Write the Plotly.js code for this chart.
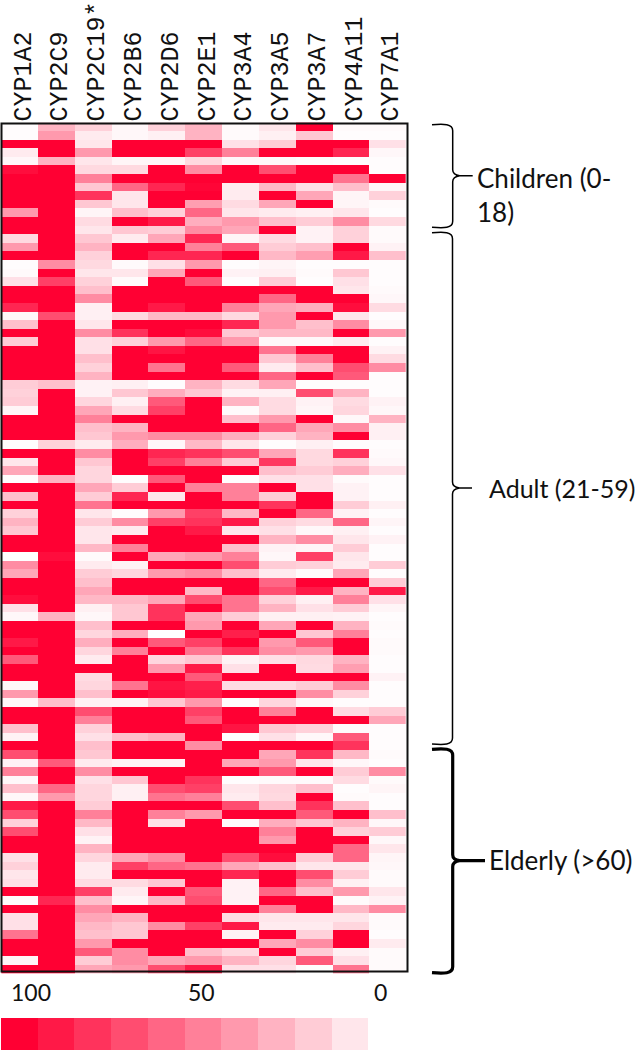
<!DOCTYPE html>
<html>
<head>
<meta charset="utf-8">
<script src="https://cdn.plot.ly/plotly-3.0.1.min.js"></script>
<style>html,body{margin:0;padding:0;background:#fff;overflow:hidden}#chart{width:638px;height:1050px}</style>
</head>
<body>
<div id="chart"></div>
<script>
const enzymes = ["CYP1A2","CYP2C9","CYP2C19*","CYP2B6","CYP2D6","CYP2E1","CYP3A4","CYP3A5","CYP3A7","CYP4A11","CYP7A1"];

const childrenRows = [
[1,30,18,3,18,30,2,10,100,2,2],
[1,40,8,3,6,30,2,6,22,1,1],
[100,100,10,100,100,100,12,20,100,100,12],
[8,100,40,100,100,75,50,100,100,85,3],
[3,30,10,4,4,15,3,3,2,1,1],
[95,100,15,15,100,45,100,70,100,100,1],
[100,100,50,100,100,100,100,100,100,55,100],
[100,100,22,60,85,98,8,28,12,25,4],
[100,100,80,10,100,100,8,100,35,4,18],
[100,100,22,10,100,38,14,35,100,4,2],
[40,100,4,25,18,60,10,8,6,10,1],
[100,100,14,100,90,32,40,25,20,45,15]
];
const adultRows = [
[100,100,10,22,20,45,35,100,5,18,2],
[15,100,22,8,35,85,4,14,5,18,2],
[40,100,30,100,100,50,65,20,25,100,5],
[100,100,18,100,85,85,100,28,38,90,25],
[1,45,15,2,12,40,1,4,1,1,1],
[2,100,10,10,35,100,5,6,2,22,1],
[12,75,18,2,100,65,1,20,1,12,1],
[100,100,25,100,100,100,100,100,100,10,2],
[100,100,45,100,100,100,100,60,100,100,3],
[85,100,6,100,90,100,50,35,32,95,14],
[3,70,6,15,28,28,15,40,100,10,1],
[25,100,10,100,100,100,85,40,25,45,3],
[100,100,45,80,100,95,22,28,28,100,40],
[20,100,12,18,40,60,40,3,3,8,1],
[100,100,12,100,92,100,100,55,100,100,5],
[100,100,25,100,100,100,100,22,50,100,14],
[100,100,18,100,55,100,65,8,25,70,45],
[100,100,30,100,100,100,100,60,100,65,1],
[20,25,5,6,1,30,14,35,1,1,1],
[18,100,5,22,32,22,5,6,70,30,1],
[20,100,16,6,65,100,30,14,5,14,5],
[4,100,35,14,75,100,2,14,4,16,3],
[100,100,50,100,100,100,25,40,100,3,30],
[100,100,25,30,100,100,100,60,35,45,6],
[100,100,22,40,45,45,32,18,30,100,6],
[1,18,8,32,3,28,10,1,6,1,1],
[100,100,45,100,85,80,70,35,15,80,2],
[10,100,22,100,75,50,20,78,15,18,3],
[35,100,16,100,100,100,100,25,20,32,12],
[1,30,16,1,65,100,1,12,12,2,1],
[100,100,35,20,100,50,50,100,12,5,1],
[25,100,20,85,10,100,50,20,100,5,1],
[100,100,55,100,100,100,100,80,100,20,6],
[18,100,10,1,40,75,28,100,60,5,1],
[30,100,20,45,75,80,90,18,14,60,4],
[22,100,10,8,100,90,10,12,3,6,1],
[100,100,10,100,100,100,100,30,45,10,5],
[100,100,28,50,100,100,25,5,4,20,1],
[0,95,2,100,35,40,50,3,75,10,1],
[45,100,8,5,100,100,70,20,18,8,20],
[35,100,20,16,40,45,25,8,2,35,1],
[100,100,25,100,100,100,100,60,100,100,20],
[100,100,35,100,100,28,100,70,90,30,90],
[95,100,28,28,35,70,55,18,6,50,12],
[12,100,6,22,80,100,55,30,12,20,4],
[3,30,3,22,80,35,20,6,6,5,1],
[100,100,25,100,100,40,100,35,100,30,2],
[100,100,16,32,0,100,88,100,22,50,1],
[90,100,32,100,65,75,100,40,65,100,2],
[100,100,16,50,100,55,80,45,40,100,2],
[65,100,8,100,16,22,5,12,15,30,1],
[100,100,100,100,40,90,12,100,14,38,1],
[100,100,14,100,100,65,100,100,100,100,5],
[3,100,16,55,92,88,14,14,20,45,1],
[40,100,25,100,95,90,100,100,45,18,1],
[3,25,5,5,22,40,1,16,3,1,1],
[100,100,70,100,100,75,100,50,100,14,20],
[100,100,50,100,100,65,100,100,100,100,35],
[25,100,18,100,100,100,92,22,18,2,1],
[5,100,12,25,30,100,1,12,3,65,1],
[100,100,25,100,100,45,100,100,100,80,1]
];
const elderlyRows = [
[70,100,22,100,100,100,100,35,80,28,2],
[5,65,8,5,5,100,35,40,10,3,1],
[50,100,45,100,100,100,100,65,100,20,45],
[3,100,12,22,100,80,1,2,2,14,2],
[25,60,16,6,70,75,10,16,25,1,4],
[3,40,16,6,55,50,8,15,100,2,1],
[90,100,20,100,100,100,70,25,80,25,1],
[70,100,50,100,50,40,100,100,65,100,25],
[18,100,28,100,12,100,2,32,22,30,3],
[70,100,12,100,100,100,100,50,100,18,20],
[100,100,5,100,100,100,100,40,100,100,3],
[100,100,30,100,100,100,100,100,100,60,10],
[12,100,16,35,45,100,70,95,20,60,4],
[18,100,8,75,60,55,35,25,10,10,3],
[10,100,8,100,100,100,85,100,70,20,2],
[12,100,14,14,22,100,5,100,45,6,2],
[100,100,75,8,100,65,5,60,25,40,10],
[2,85,25,4,28,70,5,100,100,2,5],
[100,100,45,100,100,100,100,50,100,28,45],
[12,100,35,30,100,100,14,10,10,10,2],
[12,100,28,22,45,75,90,8,8,16,2],
[55,100,25,22,100,100,5,100,18,100,1],
[100,100,40,100,100,100,100,35,45,100,8],
[100,100,65,45,100,25,15,100,20,6,2],
[4,100,20,45,35,40,30,16,65,12,2],
[100,100,35,40,70,90,12,12,1,55,2]
];
const legendLevels = [100,90,80,70,60,50,40,30,20,10,0];
const legendLabels = ["100","50","0"];

const W = 638, H = 1050;
const px = x => x / W;
const py = y => 1 - y / H;
const scale = [[0,"#FFFFFF"],[1,"#FF0033"]];
const allRows = childrenRows.concat(adultRows, elderlyRows);

function brace(xL, xV, xTip, yTop, yTip, yBot) {
  const r = 6;
  return "M" + px(xL) + "," + py(yTop) +
    " C" + px(xL + 12) + "," + py(yTop - 1) + " " + px(xV) + "," + py(yTop - 1) + " " + px(xV) + "," + py(yTop + r) +
    " L" + px(xV) + "," + py(yTip - r) +
    " Q" + px(xV) + "," + py(yTip - 1) + " " + px(xV + 7) + "," + py(yTip) +
    " L" + px(xTip) + "," + py(yTip) +
    " L" + px(xV + 7) + "," + py(yTip) +
    " Q" + px(xV) + "," + py(yTip + 1) + " " + px(xV) + "," + py(yTip + r) +
    " L" + px(xV) + "," + py(yBot - r) +
    " C" + px(xV) + "," + py(yBot + 1) + " " + px(xL + 12) + "," + py(yBot + 1) + " " + px(xL) + "," + py(yBot);
}
const braceShape = (d, w) => ({type:"path", xref:"paper", yref:"paper", path:d, line:{color:"#000", width:w}});

const sideFont = {family:"Lato, 'Open Sans', sans-serif", size:26, color:"#111"};
const adultFont = {family:"Lato, 'Open Sans', sans-serif", size:25, color:"#111"};
const numberFont = {family:"Lato, 'Open Sans', sans-serif", size:23, color:"#111"};
const note = (x, y, text, anchor, font) => ({xref:"paper", yref:"paper", x:px(x), y:py(y), text:text, showarrow:false,
  xanchor:anchor || "left", yanchor:"middle", align:"left", font:font || sideFont});

const traces = [
  {type:"heatmap", x:enzymes, y:allRows.map((_, i) => i), z:allRows, xaxis:"x", yaxis:"y",
   colorscale:scale, zmin:0, zmax:100, showscale:false, xgap:0, ygap:0, hoverongaps:false},
  {type:"heatmap", z:[legendLevels], xaxis:"x2", yaxis:"y2",
   colorscale:scale, zmin:0, zmax:100, showscale:false}
];

const layout = {
  width:W, height:H, margin:{l:0,r:0,t:0,b:0}, paper_bgcolor:"#fff", plot_bgcolor:"#fff", showlegend:false,
  xaxis:{domain:[px(1.2), px(405.7)], side:"top", type:"category", tickangle:-90, ticks:"", showgrid:false, zeroline:false,
         ticklabelshift:3,
         tickfont:{family:"Liberation Mono", size:25, color:"#111"}, anchor:"y", automargin:false},
  yaxis:{domain:[py(973.8), py(122.4)], autorange:"reversed", showticklabels:false, ticks:"", showgrid:false, zeroline:false, anchor:"x", automargin:false},
  xaxis2:{domain:[px(1), px(404.7)], showticklabels:false, ticks:"", showgrid:false, zeroline:false, anchor:"y2"},
  yaxis2:{domain:[0, 32/H], showticklabels:false, ticks:"", showgrid:false, zeroline:false, anchor:"x2"},
  shapes:[
    {type:"rect", xref:"paper", yref:"paper", x0:px(1.5), x1:px(407.5), y0:py(971.5), y1:py(123.5), line:{color:"#111", width:2}, fillcolor:"rgba(0,0,0,0)"},
    braceShape(brace(432, 452.7, 472.7, 124.7, 175.7, 227.3), 1.5),
    braceShape(brace(432, 452.5, 472, 232.7, 488, 744), 1.5),
    braceShape(brace(432, 452.7, 485, 749.3, 860.7, 972.7), 3.2)
  ],
  annotations:[
    note(475, 195, "Children (0-<br>18)"),
    note(487, 488, "Adult (21-59)", "left", adultFont),
    note(487, 860, "Elderly (>60)"),
    note(31, 992, legendLabels[0], "center", numberFont),
    note(201, 992, legendLabels[1], "center", numberFont),
    note(380.5, 992, legendLabels[2], "center", numberFont)
  ]
};
Plotly.newPlot("chart", traces, layout, {displayModeBar:false, staticPlot:true});
</script>
</body>
</html>
